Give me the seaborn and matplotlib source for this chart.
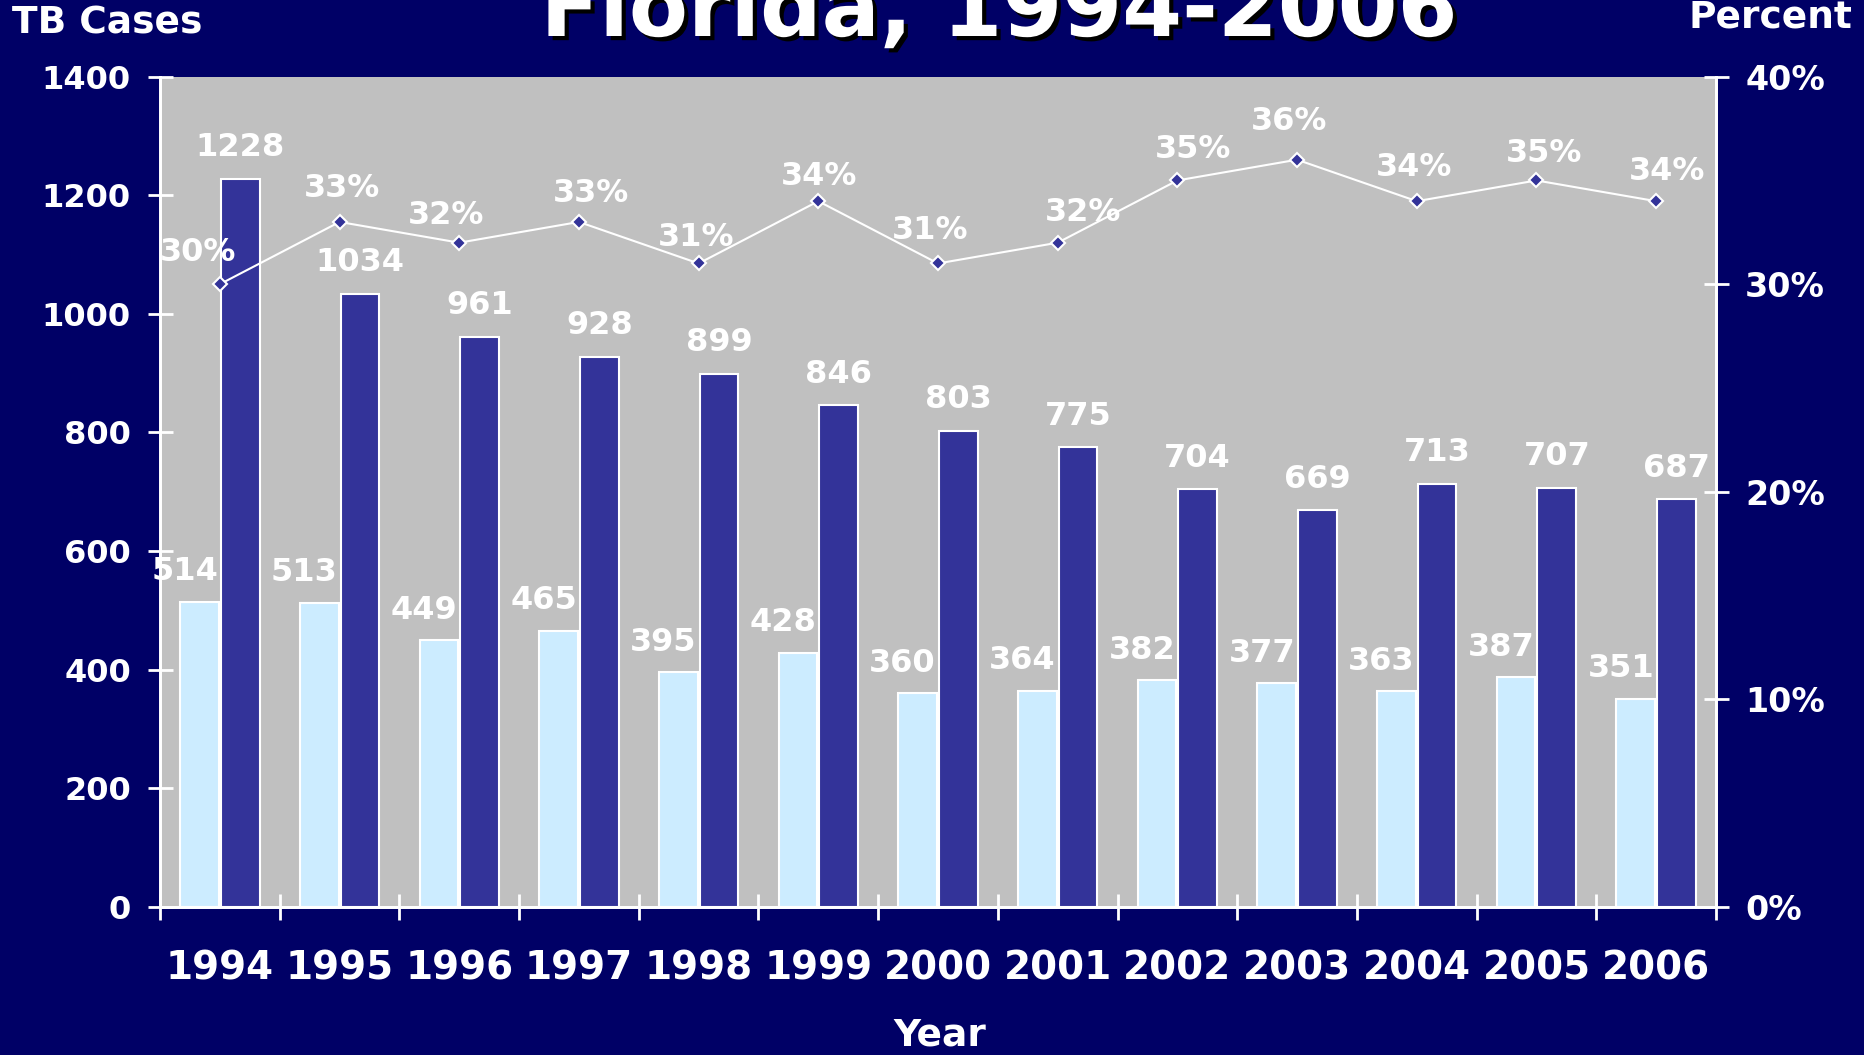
# plot.py
# TB cases in Florida 1994-2006: paired bars + percent line on a second axis

import numpy as np
import pandas as pd
import seaborn as sns
import matplotlib.pyplot as plt
import matplotlib.patheffects as pe

# --- data ---
years = ['1994', '1995', '1996', '1997', '1998', '1999', '2000',
         '2001', '2002', '2003', '2004', '2005', '2006']
light_cases = [514, 513, 449, 465, 395, 428, 360, 364, 382, 377, 363, 387, 351]
dark_cases = [1228, 1034, 961, 928, 899, 846, 803, 775, 704, 669, 713, 707, 687]
percent = [30, 33, 32, 33, 31, 34, 31, 32, 35, 36, 34, 35, 34]
left_ticks = [0, 200, 400, 600, 800, 1000, 1200, 1400]
right_ticks = [0, 10, 20, 30, 40]

# label nudges (pixels) for the percent labels, as placed in the original
pct_dx = [-22, 2, -13, 12, -2, 1, -8, 25, 16, -8, -3, 8, 11]
pct_dy = [32, 33, 27, 28, 26, 25, 33, 30, 31, 38, 34, 27, 30]

df = pd.DataFrame({
    'Year': years * 2,
    'Cases': light_cases + dark_cases,
    'Series': ['light'] * len(years) + ['dark'] * len(years),
})

# --- colours ---
NAVY = '#000066'
GRAY = '#C0C0C0'
LIGHT = '#CCECFF'
DARK = '#333399'

sns.set_style('white')
plt.rcParams['font.family'] = ['DejaVu Sans']
plt.rcParams['font.weight'] = 'bold'

fig = plt.figure(figsize=(18.65, 10.55), dpi=100, facecolor=NAVY)
ax = fig.add_axes([0.0858, 0.1406, 0.8343, 0.7867])
ax.set_facecolor(GRAY)

sns.barplot(data=df, x='Year', y='Cases', hue='Series', hue_order=['light', 'dark'],
            palette={'light': LIGHT, 'dark': DARK}, width=0.68, gap=0.05,
            edgecolor='white', linewidth=1.5, saturation=1, legend=False, ax=ax)

ax.set_xlim(-0.5, len(years) - 0.5)
ax.set_ylim(0, 1400)
ax.set_xlabel('')
ax.set_ylabel('')

# bar value labels
for bar, v in zip(ax.containers[0], light_cases):
    ax.annotate(str(v), xy=(bar.get_x() + bar.get_width() / 2, bar.get_height()),
                xytext=(-15, 30), textcoords='offset pixels', ha='center', va='center',
                fontsize=23, fontweight='bold', color='white')
for bar, v in zip(ax.containers[1], dark_cases):
    ax.annotate(str(v), xy=(bar.get_x() + bar.get_width() / 2, bar.get_height()),
                xytext=(0, 31), textcoords='offset pixels', ha='center', va='center',
                fontsize=23, fontweight='bold', color='white')

# ticks on the case axis: marks between categories, labels at the centres
ax.set_xticks(np.arange(-0.5, len(years), 1))
ax.set_xticklabels([])
ax.set_xticks(np.arange(len(years)), minor=True)
ax.set_xticklabels(years, minor=True, fontweight='bold', fontsize=28, color='white')
ax.tick_params(axis='x', which='major', bottom=True, direction='inout', length=19,
               width=2, colors='white')
ax.tick_params(axis='x', which='minor', bottom=True, length=0, pad=31)
ax.set_yticks(left_ticks)
ax.set_yticklabels([str(t) for t in left_ticks], fontweight='bold')
ax.tick_params(axis='y', left=True, direction='inout', length=18, width=2, pad=12,
               labelsize=23, colors='white')

for side in ['left', 'bottom', 'right']:
    ax.spines[side].set_color('white')
    ax.spines[side].set_linewidth(2)
ax.spines['top'].set_visible(False)

# percent line on a twin axis
ax2 = ax.twinx()
sns.lineplot(x=np.arange(len(years)), y=percent, ax=ax2, color='white', linewidth=1.5,
             marker='D', markersize=7, markerfacecolor=DARK, markeredgecolor='white',
             markeredgewidth=1.5)
ax2.set_xlim(-0.5, len(years) - 0.5)
ax2.set_ylim(0, 40)
ax2.set_yticks(right_ticks)
ax2.set_yticklabels([f'{t}%' for t in right_ticks], fontweight='bold')
ax2.tick_params(axis='y', right=True, direction='inout', length=18, width=2, pad=12,
                labelsize=24, colors='white')
for side in ['left', 'bottom', 'right']:
    ax2.spines[side].set_color('white')
    ax2.spines[side].set_linewidth(2)
ax2.spines['top'].set_visible(False)

for i, p in enumerate(percent):
    ax2.annotate(f'{p}%', xy=(i, p), xytext=(pct_dx[i], pct_dy[i]),
                 textcoords='offset pixels', ha='center', va='center',
                 fontsize=23, fontweight='bold', color='white')

# titles and axis names
fig.text(0.5357, 1 - 36 / 1055, 'Florida, 1994-2006', ha='center', va='baseline',
         fontsize=62, fontweight='bold', color='white',
         path_effects=[pe.SimplePatchShadow(offset=(3, -3), shadow_rgbFace='black', alpha=1.0),
                       pe.Normal()])
fig.text(12 / 1865, 1 - 24 / 1055, 'TB Cases', ha='left', va='center',
         fontsize=27, fontweight='bold', color='white')
fig.text(1852 / 1865, 1 - 18 / 1055, 'Percent', ha='right', va='center',
         fontsize=27, fontweight='bold', color='white')
fig.text(940 / 1865, 1 - 1036 / 1055, 'Year', ha='center', va='center',
         fontsize=27, fontweight='bold', color='white')

fig.savefig('out.png', dpi=100, facecolor=NAVY)
